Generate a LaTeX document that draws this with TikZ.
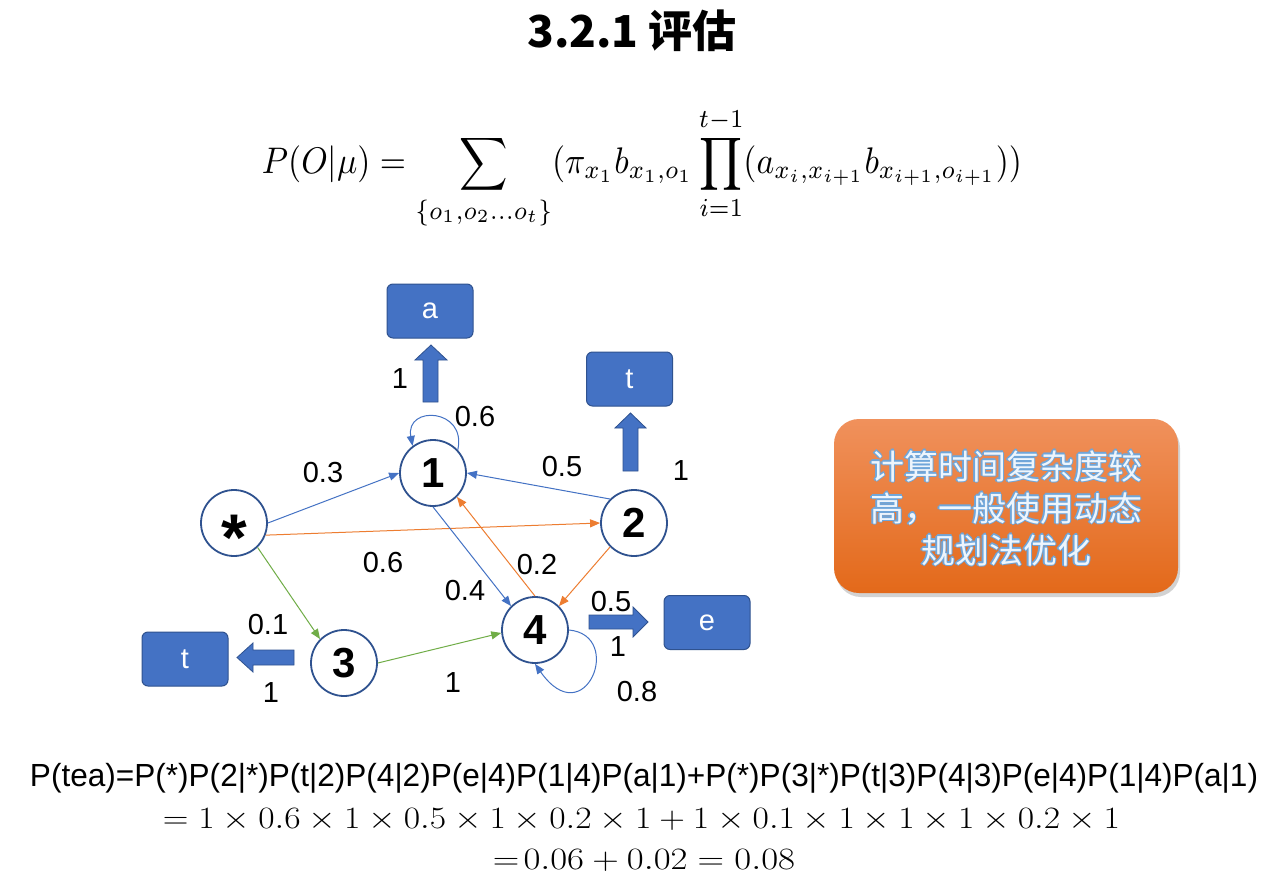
\documentclass[tikz,border=0pt]{standalone}
\usepackage[no-math]{fontspec}
\usepackage{amsmath}
\usepackage{graphicx}
\newfontfamily\cjk{Noto Sans CJK SC}
\newfontfamily\lab{Liberation Sans}
\usetikzlibrary{arrows.meta,shadows,calc}
\definecolor{nblue}{HTML}{4472C4}
\definecolor{dblue}{HTML}{2F528F}
\definecolor{ornge}{HTML}{ED7D31}
\definecolor{grn}{HTML}{70AD47}
\definecolor{boxtop}{HTML}{F0915C}
\definecolor{boxbot}{HTML}{E3691A}
\definecolor{glow}{HTML}{6FA6DA}
\definecolor{paletxt}{HTML}{EEF5FC}
\tikzset{
  stnode/.style={circle, draw=dblue, line width=1.8pt, fill=white, minimum size=66pt, inner sep=0pt,
    font=\lab\bfseries\fontsize{42}{42}\selectfont},
  obsbox/.style={rectangle, rounded corners=6pt, draw=dblue, line width=1pt, fill=nblue,
    minimum width=86pt, minimum height=54pt, inner sep=0pt, text=white,
    font=\lab\fontsize{29}{29}\selectfont},
  blockarr/.style={fill=nblue, draw=dblue, line width=0.8pt},
  edge/.style={line width=1pt, -{Triangle[length=10pt,width=8pt]}},
  lbl/.style={inner sep=0pt, font=\lab\fontsize{29}{29}\selectfont},
  cjktxt/.style={align=center, inner sep=0pt, font=\cjk\fontsize{34}{42}\selectfont},
}
\begin{document}
\begin{tikzpicture}[x=1pt,y=1pt]
\useasboundingbox (0,0) rectangle (1264,-891);
\fill[white] (0,0) rectangle (1264,-891);

% title
\node[font=\cjk\bfseries\fontsize{44}{52}\selectfont] (title) at (632,-31) {3.2.1 评估};

% formula
\node (formula) at (642,-168) {\scalebox{1}[1.1]{\resizebox{760pt}{!}{$\displaystyle P(O|\mu)=\sum_{\{o_1,o_2...o_t\}}(\pi_{x_1}b_{x_1,o_1}\prod_{i=1}^{t-1}(a_{x_i,x_{i+1}}b_{x_{i+1},o_{i+1}}))$}}};

% state nodes
\node[stnode, text height=0pt, text depth=0pt] (star) at (234,-523) {\raisebox{-37pt}{\fontsize{66}{66}\selectfont *}};
\node[stnode] (n1) at (433,-473) {1};
\node[stnode] (n2) at (634,-523) {2};
\node[stnode] (n3) at (344,-663) {3};
\node[stnode] (n4) at (535,-630) {4};

% observation boxes
\node[obsbox] (ba) at (430,-311) {a};
\node[obsbox] (bt1) at (629.5,-379) {t};
\node[obsbox] (be) at (707,-622.5) {e};
\node[obsbox] (bt2) at (185,-659) {t};

% block arrows
\draw[blockarr] (423,-402)--(423,-360)--(415,-360)--(431,-345)--(447,-360)--(438,-360)--(438,-402)--cycle;
\draw[blockarr] (623,-471)--(623,-428)--(615,-428)--(630.5,-413)--(646,-428)--(638,-428)--(638,-471)--cycle;
\draw[blockarr] (589,-615)--(633,-615)--(633,-607)--(648,-622)--(633,-637)--(633,-629)--(589,-629)--cycle;
\draw[blockarr] (294,-650)--(253,-650)--(253,-643)--(237,-657.5)--(253,-672)--(253,-665)--(294,-665)--cycle;

% transitions
\draw[edge, nblue] (star.east) -- (n1.west);
\draw[edge, ornge] (star.-21) -- (n2.west);
\draw[edge, grn] (star.-46) -- (n3.135);
\draw[edge, grn] (n3.east) -- (n4.185);
\draw[edge, nblue] (n1.south) -- (n4.135);
\draw[edge, ornge] (n4.north) -- (n1.-45);
\draw[edge, nblue] (n2.135) -- (n1.east);
\draw[edge, ornge] (n2.-135) -- (n4.45);
\draw[edge, nblue] (n1.43) .. controls (467,-408) and (405,-405) .. (n1.127);
\draw[edge, nblue] (n4.east) .. controls (625,-635) and (585,-735) .. (n4.south);

% labels
\node[lbl] (l1) at (323,-473) {0.3};
\node[lbl] (l2) at (475,-417) {0.6};
\node[lbl] (l3) at (400,-379) {1};
\node[lbl] (l4) at (562,-467) {0.5};
\node[lbl] (l5) at (681,-471) {1};
\node[lbl] (l6) at (383,-563) {0.6};
\node[lbl] (l7) at (537,-565) {0.2};
\node[lbl] (l8) at (465,-591) {0.4};
\node[lbl] (l9) at (611,-602) {0.5};
\node[lbl] (l10) at (618,-647) {1};
\node[lbl] (l11) at (637,-692) {0.8};
\node[lbl] (l12) at (268,-625) {0.1};
\node[lbl] (l13) at (271,-693) {1};
\node[lbl] (l14) at (453,-683) {1};

% orange note box
\node[rectangle, rounded corners=25pt, minimum width=344pt, minimum height=174pt,
  top color=boxtop, bottom color=boxbot, draw=none,
  drop shadow={shadow xshift=2pt, shadow yshift=-4pt, opacity=0.35}] (note) at (1006,-506) {};
\foreach \dx/\dy in {1.3/0,-1.3/0,0/1.3,0/-1.3,0.9/0.9,-0.9/0.9,0.9/-0.9,-0.9/-0.9}{
  \node[cjktxt, text=glow] at ($(note.center)+(\dx,\dy-2)$) {计算时间复杂度较\\高，一般使用动态\\规划法优化};
}
\node[cjktxt, text=paletxt] (notetext) at ($(note.center)+(0,-2)$) {计算时间复杂度较\\高，一般使用动态\\规划法优化};

% bottom equations
\node[inner sep=0pt] (eq1) at (644,-778) {\resizebox{1228pt}{\height}{\lab\fontsize{32}{36}\selectfont P(tea)=P(*)P(2|*)P(t|2)P(4|2)P(e|4)P(1|4)P(a|1)+P(*)P(3|*)P(t|3)P(4|3)P(e|4)P(1|4)P(a|1)}};
\node[inner sep=0pt] (eq2) at (641.5,-820) {\resizebox{957pt}{20pt}{\fontsize{20}{24}\selectfont $=1\times 0.6\times 1\times 0.5\times 1\times 0.2\times 1+1\times 0.1\times 1\times 1\times 1\times 0.2\times 1$}};
\node[inner sep=0pt] (eq3) at (644,-860) {\resizebox{302pt}{20pt}{\fontsize{20}{24}\selectfont $=\!0.06+0.02=0.08$}};
\end{tikzpicture}
\end{document}
